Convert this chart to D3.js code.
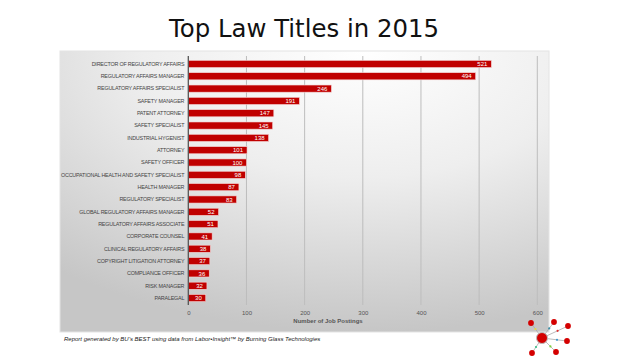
<!DOCTYPE html>
<html>
<head>
<meta charset="utf-8">
<script src="https://cdn.jsdelivr.net/npm/d3@7"></script>
<style>
  body { margin: 0; background: #fff; }
  svg { display: block; }
</style>
</head>
<body>
<svg class="root"></svg>
<script>
var titles = ["DIRECTOR OF REGULATORY AFFAIRS", "REGULATORY AFFAIRS MANAGER", "REGULATORY AFFAIRS SPECIALIST",
  "SAFETY MANAGER", "PATENT ATTORNEY", "SAFETY SPECIALIST", "INDUSTRIAL HYGENIST", "ATTORNEY", "SAFETY OFFICER",
  "OCCUPATIONAL HEALTH AND SAFETY SPECIALIST", "HEALTH MANAGER", "REGULATORY SPECIALIST",
  "GLOBAL REGULATORY AFFAIRS MANAGER", "REGULATORY AFFAIRS ASSOCIATE", "CORPORATE COUNSEL",
  "CLINICAL REGULATORY AFFAIRS", "COPYRIGHT LITIGATION ATTORNEY", "COMPLIANCE OFFICER", "RISK MANAGER", "PARALEGAL"];
var postings = [521, 494, 246, 191, 147, 145, 138, 101, 100, 98, 87, 83, 52, 51, 41, 38, 37, 36, 32, 30];
var xTicks = [0, 100, 200, 300, 400, 500, 600];

var width = 636, height = 358;
var svg = d3.select(".root").attr("width", width).attr("height", height);

var defs = svg.append("defs");
var grad = defs.append("radialGradient").attr("id", "bg")
    .attr("cx", "62%").attr("cy", "0%").attr("r", "100%").attr("fx", "62%").attr("fy", "0%");
grad.append("stop").attr("offset", "0%").attr("stop-color", "#ffffff");
grad.append("stop").attr("offset", "45%").attr("stop-color", "#eeeeee");
grad.append("stop").attr("offset", "100%").attr("stop-color", "#c6c6c6");

// title
svg.append("text")
  .attr("x", 304).attr("y", 37)
  .attr("text-anchor", "middle")
  .style("font-family", "DejaVu Sans, Verdana, sans-serif")
  .style("font-size", "24.4px")
  .attr("fill", "#111")
  .text("Top Law Titles in 2015");

// panel
svg.append("rect")
  .attr("x", 60).attr("y", 51).attr("width", 489).attr("height", 281)
  .attr("fill", "url(#bg)")
  .attr("stroke", "#e4e4e4").attr("stroke-width", 1);

var x = d3.scaleLinear().domain([0, 600]).range([188.3, 537.3]);
var y = d3.scaleBand().domain(titles).range([57.8, 304.2]).paddingInner(0.42).paddingOuter(0.21);

// gridlines
svg.append("g").selectAll("line")
  .data(xTicks.slice(1))
  .enter().append("line")
    .attr("x1", (d) => x(d)).attr("x2", (d) => x(d))
    .attr("y1", 56).attr("y2", 305)
    .attr("stroke", "#bdbdbd").attr("stroke-width", 1);

// bars
svg.append("g").selectAll("rect")
  .data(postings)
  .enter().append("rect")
    .attr("x", x(0))
    .attr("y", (d, i) => y(titles[i]))
    .attr("width", (d) => x(d) - x(0))
    .attr("height", y.bandwidth())
    .attr("fill", "#c00000")
    .attr("stroke", "#f3d6d6").attr("stroke-width", 0.6);

// value labels
svg.append("g").selectAll("text")
  .data(postings)
  .enter().append("text")
    .attr("x", (d) => x(d) - 4)
    .attr("y", (d, i) => y(titles[i]) + y.bandwidth() / 2 + 2.2)
    .attr("text-anchor", "end")
    .style("font-family", "Liberation Sans, Arial, sans-serif")
    .style("font-size", "6px")
    .attr("fill", "#fff")
    .text((d) => d);

// category axis
var yAxis = d3.axisLeft(y).tickSize(0).tickPadding(4);
var gy = svg.append("g")
  .attr("transform", "translate(" + x(0) + ",0)")
  .call(yAxis);
gy.select(".domain").attr("stroke", "#555").attr("stroke-width", 1.3)
  .attr("d", "M0,56V305");
gy.selectAll("text")
  .style("font-family", "Liberation Sans, Arial, sans-serif")
  .style("font-size", "5.4px")
  .style("letter-spacing", "-0.2px")
  .attr("fill", "#444")
  .attr("dy", "0.35em");

// value axis
var xAxis = d3.axisBottom(x).tickValues(xTicks).tickSize(0).tickPadding(6);
var gx = svg.append("g")
  .attr("transform", "translate(0,305)")
  .call(xAxis);
gx.select(".domain").remove();
gx.selectAll("text")
  .style("font-family", "Liberation Sans, Arial, sans-serif")
  .style("font-size", "6px")
  .attr("fill", "#555");

svg.append("text")
  .attr("x", 328).attr("y", 323)
  .attr("text-anchor", "middle")
  .style("font-family", "Liberation Sans, Arial, sans-serif")
  .style("font-size", "6px")
  .style("font-weight", "bold")
  .attr("fill", "#555")
  .text("Number of Job Postings");

// footer
svg.append("text")
  .attr("x", 64).attr("y", 341)
  .style("font-family", "Liberation Sans, Arial, sans-serif")
  .style("font-size", "6px")
  .style("font-style", "italic")
  .attr("fill", "#222")
  .text("Report generated by BU\u2019s BEST using data from Labor\u2022Insight\u2122 by Burning Glass Technologies");

// logo
var hub = [542, 338];
var nodes = [
  {x: 531, y: 323, dot: "#e8d84a"},
  {x: 554, y: 322, dot: "#3a8fa8"},
  {x: 568, y: 326, dot: "#e03030"},
  {x: 567, y: 341, dot: "#3a9ad0"},
  {x: 556, y: 352, dot: "#7ccf3a"},
  {x: 532, y: 353, dot: "#3ac08a"}
];
var logo = svg.append("g");
nodes.forEach((n) => {
  logo.append("line").attr("x1", hub[0]).attr("y1", hub[1]).attr("x2", n.x).attr("y2", n.y)
    .attr("stroke", "#aaa").attr("stroke-width", 0.8);
  logo.append("circle").attr("cx", hub[0] + (n.x - hub[0]) * 0.6).attr("cy", hub[1] + (n.y - hub[1]) * 0.6)
    .attr("r", 1.1).attr("fill", n.dot);
  logo.append("circle").attr("cx", n.x).attr("cy", n.y).attr("r", 2.9).attr("fill", "#d40000");
});
logo.append("circle").attr("cx", hub[0]).attr("cy", hub[1]).attr("r", 5.5)
  .attr("fill", "#d40000").attr("stroke", "#bbb").attr("stroke-width", 1);
</script>
</body>
</html>
